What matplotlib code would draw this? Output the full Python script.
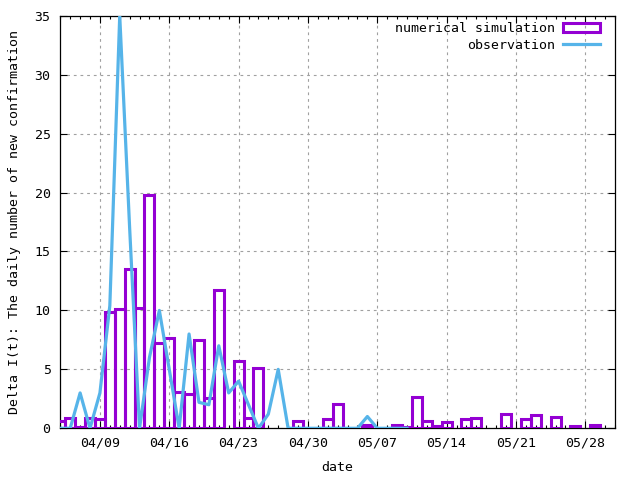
import numpy as np
import matplotlib
matplotlib.use("Agg")
import matplotlib.pyplot as plt
import matplotlib.dates as mdates
from matplotlib.patches import Patch
from matplotlib.lines import Line2D

# ── data ──────────────────────────────────────────────────────────────────
start = np.datetime64("2020-04-05")

# numerical simulation, one value per day from 04/05 (0 = no box drawn)
sim_vals = [0.6, 0.85, 0.1, 0.85, 0.75, 9.9, 10.1, 13.5, 10.2, 19.8,
            7.2, 7.7, 3.1, 2.9, 7.5, 2.6, 11.7, 0.0, 5.7, 0.85,
            5.1, 0.0, 0.0, 0.0, 0.6, 0.0, 0.0, 0.75, 2.1, 0.0,
            0.0, 0.3, 0.0, 0.0, 0.25, 0.1, 2.65, 0.65, 0.2, 0.55,
            0.0, 0.75, 0.85, 0.0, 0.0, 1.25, 0.0, 0.75, 1.15, 0.0,
            1.0, 0.0, 0.2, 0.0, 0.25, 0.0]

# observation, one value per day from 04/05
obs_vals = [0, 0, 3, 0, 3, 10.4, 35, 17, 0, 6,
            10, 5, 0, 8, 2.2, 2.0, 7, 3, 4, 2,
            0, 1.2, 5, 0, 0, 0, 0, 0, 0, 0,
            0, 1, 0, 0, 0, 0]

xtick_labels = ["04/09", "04/16", "04/23", "04/30", "05/07", "05/14", "05/21", "05/28"]
yticks = [0, 5, 10, 15, 20, 25, 30, 35]

PURPLE = "#9400D3"
BLUE = "#56B4E9"

plt.rcParams["font.family"] = ["DejaVu Sans Mono"]
plt.rcParams["font.size"] = 9.5

sim_days = start + np.arange(len(sim_vals))
obs_days = start + np.arange(len(obs_vals))
sim = np.array(sim_vals)
keep = sim > 0

fig = plt.figure(figsize=(6.4, 4.8), dpi=100)
ax = fig.add_axes([60.3 / 640, 1 - 428.3 / 480, (615 - 60.3) / 640, (428.3 - 15.7) / 480])

ax.bar(sim_days[keep], sim[keep], width=1.0, fill=False,
       edgecolor=PURPLE, linewidth=2.2, zorder=3)
ax.plot(obs_days, obs_vals, color=BLUE, linewidth=2.3, zorder=4)

ax.set_xlim(start, start + np.timedelta64(56, "D"))
ax.set_ylim(0, 35)

tick_dates = start + 4 + 7 * np.arange(len(xtick_labels))
ax.set_xticks(tick_dates, xtick_labels)
ax.xaxis.set_minor_locator(mdates.DayLocator())
ax.set_yticks(yticks)

ax.tick_params(which="both", direction="in", top=True, right=True, colors="black")
ax.tick_params(which="major", length=5, width=0.8, pad=6)
ax.tick_params(which="minor", length=2.5, width=0.8)
ax.tick_params(axis="y", pad=7)
for s in ax.spines.values():
    s.set_linewidth(0.9)

ax.grid(True, which="major", color="#a0a0a0", linewidth=0.8,
        linestyle=(0, (2.5, 3.5)), zorder=0)

ax.set_xlabel("date", labelpad=8)
ax.set_ylabel("Delta I(t): The daily number of new confirmation", labelpad=10)

handles = [Patch(facecolor="none", edgecolor=PURPLE, linewidth=2.2),
           Line2D([], [], color=BLUE, linewidth=2.3)]
ax.legend(handles, ["numerical simulation", "observation"], loc="upper right",
          bbox_to_anchor=(0.9825, 0.9976), borderaxespad=0,
          frameon=False, markerfirst=False, handlelength=2.8, handletextpad=0.6,
          labelspacing=0.3)

fig.savefig("out.png", dpi=100)
